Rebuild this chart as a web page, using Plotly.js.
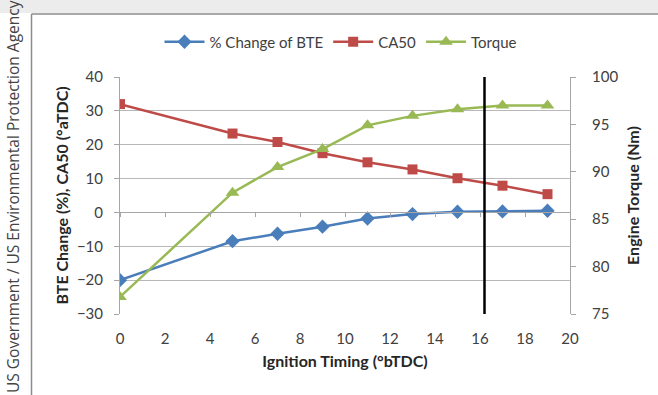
<!DOCTYPE html>
<html>
<head>
<meta charset="utf-8">
<script src="https://cdn.plot.ly/plotly-3.0.1.min.js"></script>
<style>html,body{margin:0;padding:0;background:#fff;}#chart{width:658px;height:395px;}</style>
</head>
<body>
<div id="chart"></div>
<script>
const timing = [0, 5, 7, 9, 11, 13, 15, 17, 19];
const bteChange = [-20, -8.5, -6.3, -4.2, -1.8, -0.5, 0.2, 0.3, 0.5];
const ca50 = [32, 23.3, 20.8, 17.5, 14.8, 12.7, 10.1, 7.9, 5.4];
const torque = [76.8, 87.8, 90.5, 92.4, 94.9, 95.9, 96.6, 97.0, 97.0];
const markerTiming = 16.2;
const seriesNames = ['% Change of BTE', 'CA50', 'Torque'];

const W = 658, H = 395, L = 120, R = 88, T = 77, B = 81;
const pw = W - L - R, ph = H - T - B;
const px = v => (v - L) / pw;
const py = v => (H - B - v) / ph;

const font = 'Lato, "Open Sans", sans-serif';
const grey = '#404040';
const titleFont = {family: font, size: 16, color: '#262626', weight: 'bold'};

const traces = [
  {x: timing, y: bteChange, name: seriesNames[0], type: 'scatter', mode: 'lines+markers',
   line: {color: '#4A7EBB', width: 2.5}, marker: {symbol: 'diamond', size: 11, color: '#4A7EBB'}},
  {x: timing, y: ca50, name: seriesNames[1], type: 'scatter', mode: 'lines+markers',
   line: {color: '#BE4B48', width: 2.5}, marker: {symbol: 'square', size: 10, color: '#BE4B48'}},
  {x: timing, y: torque, name: seriesNames[2], type: 'scatter', mode: 'lines+markers', yaxis: 'y2',
   line: {color: '#98B954', width: 2.5}, marker: {symbol: 'triangle-up', size: 12, color: '#98B954'}},
  {x: [null], y: [null], xaxis: 'x2', showlegend: false, hoverinfo: 'skip', type: 'scatter', mode: 'lines'}
];

const layout = {
  width: W, height: H,
  margin: {l: L, r: R, t: T, b: B, pad: 0},
  paper_bgcolor: '#fff', plot_bgcolor: '#fff',
  font: {family: font, size: 15, color: grey},
  showlegend: true,
  legend: {orientation: 'h', x: px(341), xanchor: 'center', y: py(42), yanchor: 'middle',
           font: {family: font, size: 15, color: grey}, itemwidth: 40, tracegroupgap: 0, bgcolor: 'rgba(0,0,0,0)'},
  xaxis: {range: [0, 20], dtick: 2, tick0: 0, showgrid: false, zeroline: false, showline: false,
          ticks: '', ticklabelstandoff: 14,
          tickfont: {family: font, size: 15, color: grey},
          title: {text: 'Ignition Timing (°bTDC)', standoff: 9, font: titleFont}},
  xaxis2: {overlaying: 'x', anchor: 'free', position: 30 / 70, range: [0, 20], dtick: 2, tick0: 0,
           showgrid: false, zeroline: false, showline: true, linecolor: '#a6a6a6', linewidth: 1,
           ticks: 'outside', ticklen: 4, tickcolor: '#a6a6a6', showticklabels: false},
  yaxis: {range: [-30, 40], dtick: 10, tick0: -30, showgrid: true, gridcolor: '#b8b8b8', gridwidth: 1,
          zeroline: false, showline: true, linecolor: '#a6a6a6', ticks: 'outside', ticklen: 5, tickcolor: '#a6a6a6',
          ticklabelstandoff: 8, tickfont: {family: font, size: 15, color: grey},
          title: {text: 'BTE Change (%), CA50 (°aTDC)', standoff: 4, font: titleFont}},
  yaxis2: {overlaying: 'y', side: 'right', range: [75, 100], dtick: 5, tick0: 75, showgrid: false,
           zeroline: false, showline: true, linecolor: '#a6a6a6', ticks: 'outside', ticklen: 5, tickcolor: '#a6a6a6',
           ticklabelstandoff: 13, tickfont: {family: font, size: 15, color: grey},
           title: {text: 'Engine Torque (Nm)', standoff: 10, font: titleFont}},
  shapes: [
    {type: 'rect', xref: 'paper', yref: 'paper', x0: px(0), x1: px(658), y0: py(13), y1: py(0),
     fillcolor: '#ececec', line: {width: 0}, layer: 'below'},
    {type: 'line', xref: 'paper', yref: 'paper', x0: px(31.5), x1: px(658), y0: py(14), y1: py(14),
     line: {color: '#8c8c8c', width: 1.5}, layer: 'below'},
    {type: 'line', xref: 'paper', yref: 'paper', x0: px(31.5), x1: px(31.5), y0: py(14), y1: py(395),
     line: {color: '#8c8c8c', width: 1.5}, layer: 'below'},
    {type: 'line', xref: 'x', yref: 'y', x0: markerTiming, x1: markerTiming, y0: -30, y1: 40,
     line: {color: '#000', width: 2.5}}
  ],
  annotations: [
    {text: 'US Government / US Environmental Protection Agency', xref: 'paper', yref: 'paper',
     x: px(13), y: py(197), xanchor: 'center', yanchor: 'middle', textangle: -90, showarrow: false,
     font: {family: '"Open Sans", sans-serif', size: 15.5, color: '#444'}}
  ]
};

Plotly.newPlot('chart', traces, layout, {displayModeBar: false, staticPlot: true});
</script>
</body>
</html>
